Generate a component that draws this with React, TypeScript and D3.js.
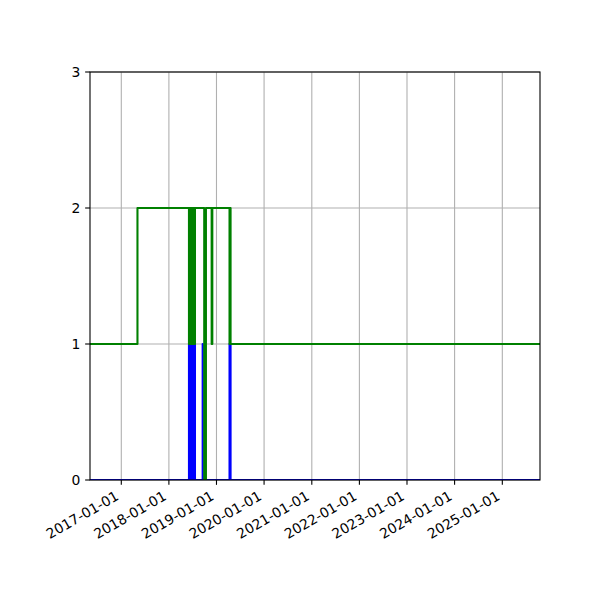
import React from 'react';
import * as d3 from 'd3';

const xDomain = ['2016-05-06', '2025-10-17'];
const xTickLabels = ['2017-01-01', '2018-01-01', '2019-01-01', '2020-01-01', '2021-01-01', '2022-01-01', '2023-01-01', '2024-01-01', '2025-01-01'];
const yTickValues = [0, 1, 2, 3];

const greenDates = ['2016-05-06', '2017-05-05', '2018-06-04', '2018-06-09', '2018-06-14', '2018-06-19', '2018-06-24', '2018-06-29', '2018-07-04', '2018-07-09', '2018-07-14', '2018-07-20', '2018-09-29', '2018-10-12', '2018-11-25', '2018-11-30', '2019-04-11', '2019-04-15', '2019-04-19', '2025-10-17'];
const greenValues = [1, 2, 1, 2, 1, 2, 1, 2, 1, 2, 1, 2, 0, 2, 1, 2, 1, 2, 1, 1];

const blueDates = ['2016-05-06', '2018-06-04', '2018-06-09', '2018-06-14', '2018-06-19', '2018-06-24', '2018-06-29', '2018-07-04', '2018-07-09', '2018-07-14', '2018-07-20', '2018-09-17', '2018-09-18', '2019-04-11', '2019-04-19', '2025-10-17'];
const blueValues = [0, 1, 0, 1, 0, 1, 0, 1, 0, 1, 0, 1, 0, 1, 0, 0];

const W = 600, H = 600;
const L = 90, R = 540, T = 72, B = 480;
const FONT = 'DejaVu Sans';
const FS = 13.9;
const TICK = 4.86;
const PAD = 4.86;

export default function App() {
  const parse = (s: string) => new Date(s + 'T00:00:00Z');
  const x = d3.scaleUtc().domain(xDomain.map(parse)).range([L, R]);
  const y = d3.scaleLinear().domain([0, 3]).range([B, T]);

  const mk = (dates: string[], vals: number[]) =>
    d3.line<[Date, number]>().x(d => x(d[0])).y(d => y(d[1])).curve(d3.curveStepAfter)(
      dates.map((s, i) => [parse(s), vals[i]] as [Date, number])
    ) || '';

  const bluePath = mk(blueDates, blueValues);
  const greenPath = mk(greenDates, greenValues);
  const fmt = d3.utcFormat('%Y-%m-%d');
  const xt = xTickLabels.map(parse);

  return (
    <svg width={W} height={H} style={{ position: 'absolute', left: 0, top: 0, background: '#fff' }} fontFamily={FONT}>
      <rect x={0} y={0} width={W} height={H} fill="#fff" />
      <defs>
        <clipPath id="plot"><rect x={L} y={T} width={R - L} height={B - T} /></clipPath>
      </defs>
      {/* grid */}
      <g stroke="#b0b0b0" strokeWidth={1.1}>
        {xt.map((d, i) => <line key={'gx' + i} x1={x(d)} x2={x(d)} y1={T} y2={B} />)}
        {yTickValues.map((v, i) => <line key={'gy' + i} x1={L} x2={R} y1={y(v)} y2={y(v)} />)}
      </g>
      <g clipPath="url(#plot)" fill="none" strokeWidth={2.08} strokeLinejoin="round">
        <path d={bluePath} stroke="#0000ff" />
        <path d={greenPath} stroke="#008000" />
      </g>
      {/* spines */}
      <rect x={L} y={T} width={R - L} height={B - T} fill="none" stroke="#000" strokeWidth={1.1} />
      {/* y ticks */}
      {yTickValues.map((v, i) => (
        <g key={'yt' + i}>
          <line x1={L - TICK} x2={L} y1={y(v)} y2={y(v)} stroke="#000" strokeWidth={1.1} />
          <text x={L - TICK - PAD} y={y(v)} dy="0.36em" textAnchor="end" fontSize={FS} fill="#000">{v}</text>
        </g>
      ))}
      {/* x ticks */}
      {xt.map((d, i) => {
        const tx = x(d);
        const ax = tx - 1.5;
        const ay = B + TICK + PAD + 9.2;
        return (
          <g key={'xt' + i}>
            <line x1={tx} x2={tx} y1={B} y2={B + TICK} stroke="#000" strokeWidth={1.1} />
            <text x={ax} y={ay} transform={`rotate(-30 ${ax} ${ay})`} textAnchor="end" fontSize={FS} fill="#000">{fmt(d)}</text>
          </g>
        );
      })}
    </svg>
  );
}
